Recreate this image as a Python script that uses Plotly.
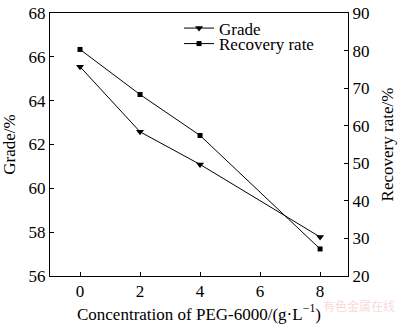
import plotly.graph_objects as go

# PEG-6000 concentration (g/L) and flotation results
conc = [0, 2, 4, 8]
grade = [65.55, 62.58, 61.09, 57.78]
recovery = [80.3, 68.3, 57.4, 27.2]

x_ticks = [0, 2, 4, 6, 8]
grade_ticks = [56, 58, 60, 62, 64, 66, 68]
recovery_ticks = [20, 30, 40, 50, 60, 70, 80, 90]

FONT = "Liberation Serif"
line_style = dict(color="black", width=1)

fig = go.Figure()
fig.add_trace(go.Scatter(
    x=conc, y=grade, name="Grade", mode="lines+markers",
    line=line_style,
    marker=dict(symbol="triangle-down", size=7, color="black"),
    legend="legend", showlegend=True,
))
fig.add_trace(go.Scatter(
    x=conc, y=recovery, name="Recovery rate", mode="lines+markers",
    yaxis="y2", line=line_style,
    marker=dict(symbol="square", size=5, color="black"),
    legend="legend2", showlegend=True,
))

axis_common = dict(
    showline=True, linecolor="black", linewidth=1,
    ticks="inside", ticklen=4, tickcolor="black",
    showgrid=False, zeroline=False, ticklabeloverflow="allow",
    tickfont=dict(family=FONT, size=17, color="black"),
)

fig.update_layout(
    width=400, height=325,
    margin=dict(l=50, r=52, t=4, b=49),
    paper_bgcolor="white", plot_bgcolor="white",
    font=dict(family=FONT, size=17, color="black"),
    showlegend=True,
    xaxis=dict(
        **axis_common, range=[-1, 8.93], tickvals=x_ticks, mirror=True,
        title=dict(text="Concentration of PEG-6000/(g·L<sup>−1</sup>)",
                   font=dict(family=FONT, size=17), standoff=6),
    ),
    yaxis=dict(
        **axis_common, range=[56, 68], tickvals=grade_ticks,
        title=dict(text="Grade/%", font=dict(family=FONT, size=17), standoff=8),
    ),
    yaxis2=dict(
        **axis_common, range=[20, 90], tickvals=recovery_ticks,
        overlaying="y", side="right",
        title=dict(text="Recovery rate/%", font=dict(family=FONT, size=17), standoff=12),
    ),
    legend=dict(x=0.433, y=0.941, xanchor="left", yanchor="middle",
                bgcolor="rgba(0,0,0,0)", font=dict(family=FONT, size=17)),
    legend2=dict(x=0.433, y=0.882, xanchor="left", yanchor="middle",
                 bgcolor="rgba(0,0,0,0)", font=dict(family=FONT, size=17)),
    annotations=[dict(
        text="有色金属在线", xref="paper", yref="paper",
        x=1.163, y=-0.112, xanchor="right", yanchor="middle", showarrow=False,
        font=dict(family="Noto Sans CJK SC", size=12, color="rgba(235,140,140,0.35)"),
    )],
)

fig.write_html("out.html")
